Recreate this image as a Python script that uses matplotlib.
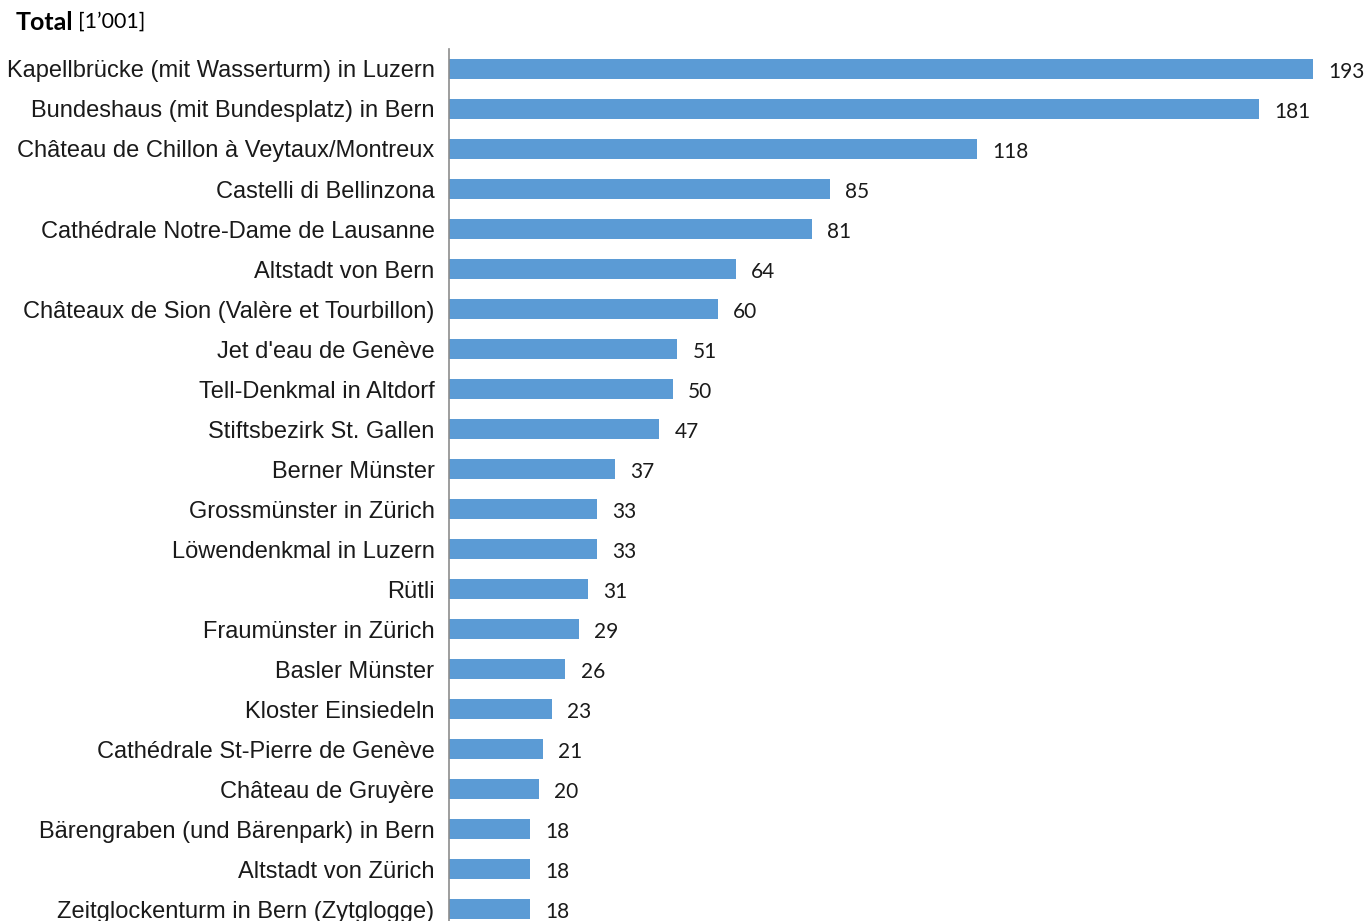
import matplotlib
matplotlib.use("Agg")
from matplotlib import pyplot as plt

# Sehenswürdigkeiten und Anzahl Nennungen
places = [
    "Kapellbrücke (mit Wasserturm) in Luzern",
    "Bundeshaus (mit Bundesplatz) in Bern",
    "Château de Chillon à Veytaux/Montreux",
    "Castelli di Bellinzona",
    "Cathédrale Notre-Dame de Lausanne",
    "Altstadt von Bern",
    "Châteaux de Sion (Valère et Tourbillon)",
    "Jet d'eau de Genève",
    "Tell-Denkmal in Altdorf",
    "Stiftsbezirk St. Gallen",
    "Berner Münster",
    "Grossmünster in Zürich",
    "Löwendenkmal in Luzern",
    "Rütli",
    "Fraumünster in Zürich",
    "Basler Münster",
    "Kloster Einsiedeln",
    "Cathédrale St-Pierre de Genève",
    "Château de Gruyère",
    "Bärengraben (und Bärenpark) in Bern",
    "Altstadt von Zürich",
    "Zeitglockenturm in Bern (Zytglogge)",
]
counts = [193, 181, 118, 85, 81, 64, 60, 51, 50, 47, 37, 33, 33, 31, 29, 26, 23, 21, 20, 18, 18, 18]

W, H = 1366, 921
fig = plt.figure(figsize=(W / 100, H / 100), dpi=100)

# achse: links bei x=449px, oben 49px, balkenabstand 40px
left, top, bottom = 449, 49, 929
ax = fig.add_axes([left / W, (H - bottom) / H, (W - left) / W, (bottom - top) / H])

ys = list(range(len(places)))
ax.barh(ys, counts, height=0.5, color="#5B9BD5")
ax.set_ylim(len(places) - 0.5, -0.5)
ax.set_xlim(0, (W - left) / 4.477)

ax.set_yticks(ys)
ax.set_yticklabels(places, fontsize=17, family=["Liberation Sans", "Arial", "DejaVu Sans"],
                   color="#1a1a1a")
ax.tick_params(axis="y", length=0, pad=10.5)
for lab in ax.get_yticklabels():
    lab.set_va("center_baseline")
ax.set_xticks([])

for s in ["top", "right", "bottom"]:
    ax.spines[s].set_visible(False)
ax.spines["left"].set_color("#8c8c8c")
ax.spines["left"].set_linewidth(1.2)

for y, v in zip(ys, counts):
    ax.annotate(str(v), (v, y), xytext=(11, -2), textcoords="offset points",
                va="center", ha="left", fontsize=15, family="Lato", color="#1a1a1a")

fig.text(16 / W, 1 - 22 / H, "Total", fontsize=18, fontweight="bold",
         family="Lato", va="center", ha="left")
fig.text(78 / W, 1 - 22 / H, "[1’001]", fontsize=15.5, family="Lato",
         va="center", ha="left")

fig.savefig("out.png", dpi=100)
